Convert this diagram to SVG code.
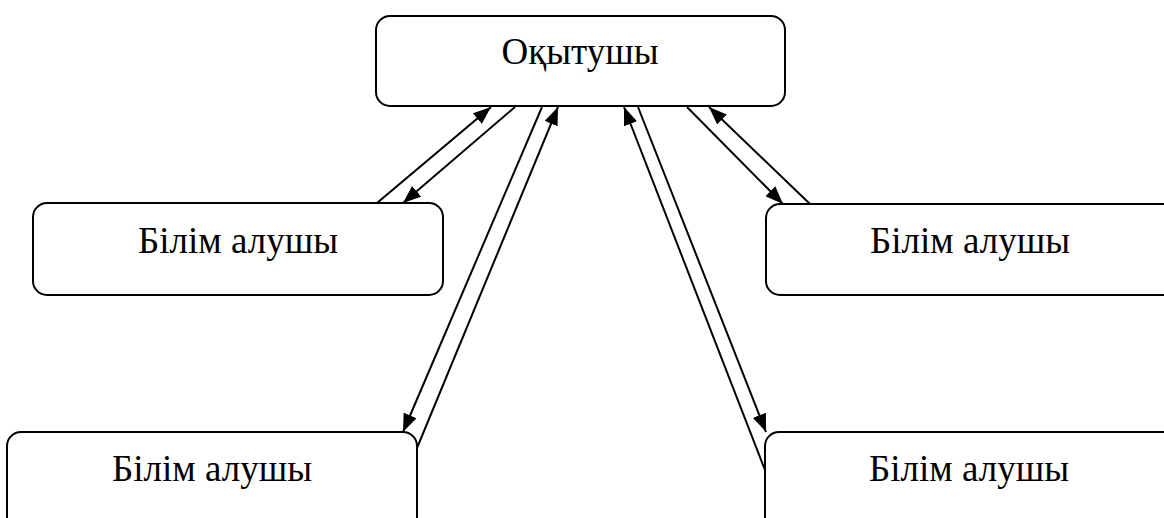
<svg xmlns="http://www.w3.org/2000/svg" width="1164" height="518" viewBox="0 0 1164 518">
<style>
.box{fill:#fff;stroke:#000;stroke-width:2}
.lbl{font-family:"Liberation Serif","Times New Roman",serif;font-size:37px;fill:#000;text-anchor:middle}
.c{stroke:#000;stroke-width:2;fill:none;marker-end:url(#ah)}
</style>
<defs>
<marker id="ah" markerUnits="userSpaceOnUse" markerWidth="18" markerHeight="14" viewBox="0 0 18 14" refX="18" refY="7" orient="auto">
<path d="M0,0 L18,7 L0,14 Z" fill="#000"/>
</marker>
</defs>
<rect width="1164" height="518" fill="#fff"/>
<g id="teacher">
<rect class="box" x="376" y="16" width="409" height="90" rx="14"/>
<text class="lbl" x="580" y="64">Оқытушы</text>
</g>
<g id="student-left-top">
<rect class="box" x="33" y="203" width="410" height="92" rx="14"/>
<text class="lbl" x="238" y="253">Білім алушы</text>
</g>
<g id="student-right-top">
<rect class="box" x="766" y="204" width="412" height="91" rx="14"/>
<text class="lbl" x="970" y="253">Білім алушы</text>
</g>
<g id="student-left-bottom">
<rect class="box" x="7" y="432" width="410" height="120" rx="14"/>
<text class="lbl" x="212" y="481">Білім алушы</text>
</g>
<g id="student-right-bottom">
<rect class="box" x="765" y="432" width="412" height="120" rx="14"/>
<text class="lbl" x="969" y="481">Білім алушы</text>
</g>
<g id="connectors">
<line class="c" x1="377" y1="203" x2="491" y2="107"/>
<line class="c" x1="515" y1="107" x2="403" y2="203"/>
<line class="c" x1="542" y1="107" x2="403" y2="432"/>
<line class="c" x1="417" y1="448" x2="558" y2="107"/>
<line class="c" x1="765" y1="470" x2="624" y2="107"/>
<line class="c" x1="638" y1="107" x2="766" y2="432"/>
<line class="c" x1="687" y1="107" x2="783" y2="204"/>
<line class="c" x1="810" y1="204" x2="709" y2="107"/>
</g>
</svg>
